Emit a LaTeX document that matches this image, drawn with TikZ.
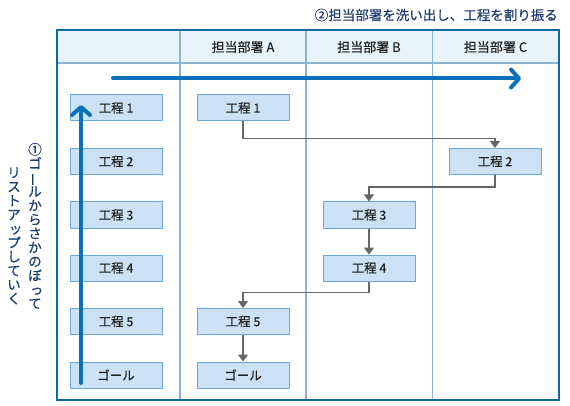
\documentclass[tikz,border=0pt]{standalone}
\usepackage{fontspec}
\setmainfont{Noto Sans CJK JP}[FakeBold=0.4]
\usetikzlibrary{arrows.meta,calc}
\definecolor{frameblue}{HTML}{0B69A3}
\definecolor{headfill}{HTML}{E8F4FB}
\definecolor{divider}{HTML}{8DB4D1}
\definecolor{boxfill}{HTML}{CCE2F4}
\definecolor{boxline}{HTML}{6AA8DE}
\definecolor{arrowblue}{HTML}{0B70B9}
\definecolor{conn}{HTML}{666666}
\definecolor{labelblue}{HTML}{1E3C6E}
\newcommand{\vbar}{\rotatebox[origin=c]{90}{ー}}
\newcommand{\smalltsu}[1]{\hspace*{0.25em}#1}
\begin{document}
\begin{tikzpicture}[x=1pt,y=-1pt,
  stepbox/.style={draw=boxline, fill=boxfill, line width=1pt, minimum width=92pt, minimum height=26pt, inner sep=0pt, font=\fontsize{12.5}{14}\selectfont, text=black!88},
  headtext/.style={font=\fontsize{13}{15}\selectfont, text=black!88},
  vtext/.style={font=\fontsize{13.5}{14}\selectfont, text=labelblue, align=center, inner sep=0pt},
  flow/.style={draw=conn, line width=1.3pt, -{Triangle[length=7pt,width=10pt]}},
  bigarrow/.style={draw=arrowblue, line width=4pt, line cap=round, -{Straight Barb[length=8pt,width=18pt,round]}},
]
\useasboundingbox (0,0) rectangle (570,406);
% frame and lanes
\fill[headfill] (56.5,30) rectangle (559,63);
\draw[divider, line width=1.5pt] (56.5,63) -- (559,63);
\draw[divider, line width=1.5pt] (180,30) -- (180,400);
\draw[divider, line width=1.5pt] (306,30) -- (306,400);
\draw[divider, line width=1.5pt] (432.5,30) -- (432.5,400);
\draw[frameblue, line width=2pt] (56.5,30) rectangle (559,400);
% titles
\node[anchor=east, font=\fontsize{13.5}{15}\selectfont, text=labelblue, inner sep=0pt] (title) at (558,15) {②担当部署を洗い出し、工程を割り振る};
\node[headtext] (ha) at (243,47) {担当部署 A};
\node[headtext] (hb) at (369,47) {担当部署 B};
\node[headtext] (hc) at (495.5,47) {担当部署 C};
% vertical notes
\node[vtext] (note1) at (35,226) {①\\ゴ\\\vbar\\ル\\か\\ら\\さ\\か\\の\\ぼ\\\smalltsu{っ}\\て};
\node[vtext] (note2) at (14,236) {リ\\ス\\ト\\ア\\\smalltsu{ッ}\\プ\\し\\て\\い\\く};
% left list
\node[stepbox] (l1) at (116,108) {工程 1};
\node[stepbox] (l2) at (116,161.5) {工程 2};
\node[stepbox] (l3) at (116,215) {工程 3};
\node[stepbox] (l4) at (116,268) {工程 4};
\node[stepbox] (l5) at (116,321.5) {工程 5};
\node[stepbox] (l6) at (116,375) {ゴール};
% lanes
\node[stepbox] (a1) at (243,108) {工程 1};
\node[stepbox] (c2) at (495,161.5) {工程 2};
\node[stepbox] (b3) at (369,215) {工程 3};
\node[stepbox] (b4) at (369,268) {工程 4};
\node[stepbox] (a5) at (243,321.5) {工程 5};
\node[stepbox] (a6) at (243,375) {ゴール};
% connectors
\draw[flow] (a1.south) -- ++(0,17) -| (c2.north);
\draw[flow] (c2.south) -- ++(0,12) -| (b3.north);
\draw[flow] (b3.south) -- (b4.north);
\draw[flow] (b4.south) -- ++(0,11) -| (a5.north);
\draw[flow] (a5.south) -- (a6.north);
% big arrows
\coordinate (vs) at (81,383);
\coordinate (ve) at (81,105);
\coordinate (hs) at (113,78.5);
\coordinate (he) at (521,78.5);
\draw[bigarrow] (vs) -- (ve);
\draw[bigarrow] (hs) -- (he);
\end{tikzpicture}
\end{document}
